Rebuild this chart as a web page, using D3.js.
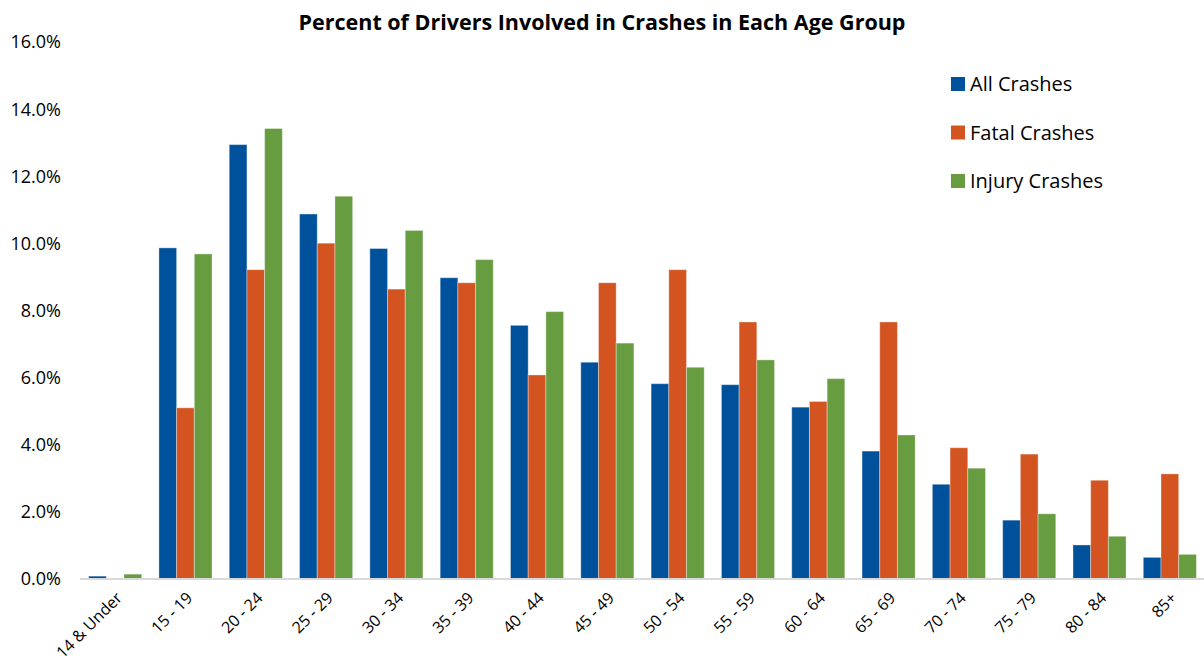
<!DOCTYPE html>
<head>
  <meta charset="utf-8">
  <title>Percent of Drivers Involved in Crashes</title>
  <style>
    body { margin: 0; background: #fff; }
    text { font-family: "Open Sans", "Noto Sans", sans-serif; fill: #000; }
  </style>
</head>
<body>
<div id="chart"></div>
<script src="https://cdn.jsdelivr.net/npm/d3@7"></script>
<script>

var ageGroups = ["14 & Under", "15 - 19", "20 - 24", "25 - 29", "30 - 34", "35 - 39", "40 - 44", "45 - 49",
  "50 - 54", "55 - 59", "60 - 64", "65 - 69", "70 - 74", "75 - 79", "80 - 84", "85+"];
var seriesNames = ["All Crashes", "Fatal Crashes", "Injury Crashes"];
var seriesColors = ["#00519b", "#d35420", "#679c41"];

var allCrashes    = [0.07, 9.86, 12.94, 10.87, 9.84, 8.97, 7.55, 6.45, 5.81, 5.78, 5.11, 3.80, 2.81, 1.74, 1.00, 0.63];
var fatalCrashes  = [0.00, 5.09, 9.21, 10.00, 8.63, 8.82, 6.07, 8.82, 9.21, 7.65, 5.28, 7.65, 3.90, 3.71, 2.93, 3.12];
var injuryCrashes = [0.13, 9.68, 13.42, 11.40, 10.38, 9.51, 7.96, 7.02, 6.30, 6.52, 5.96, 4.28, 3.29, 1.93, 1.26, 0.72];

var yTicks = [0, 2, 4, 6, 8, 10, 12, 14, 16];

var width = 1204, height = 664;

var svg = d3.select("#chart").append("svg")
    .attr("width", width)
    .attr("height", height);

var x0 = d3.scaleBand()
    .domain(ageGroups)
    .range([80, 1205])
    .paddingInner(0.245)
    .paddingOuter(0.1225);

var x1 = d3.scaleBand()
    .domain(seriesNames)
    .range([0, x0.bandwidth()]);

var y = d3.scaleLinear()
    .domain([0, 16])
    .range([578.5, 42]);

var rows = ageGroups.map(function(g, i) {
  return { group: g, values: [allCrashes[i], fatalCrashes[i], injuryCrashes[i]] };
});

// y labels
svg.append("g")
  .selectAll("text")
  .data(yTicks)
  .enter().append("text")
    .attr("x", 61)
    .attr("y", function(d) { return y(d); })
    .attr("dy", "0.36em")
    .attr("text-anchor", "end")
    .style("font-size", "18px")
    .text(function(d) { return d.toFixed(1) + "%"; });

// bars
var group = svg.append("g")
  .selectAll("g")
  .data(rows)
  .enter().append("g")
    .attr("transform", function(d) { return "translate(" + x0(d.group) + ",0)"; });

group.selectAll("rect")
  .data(function(d) { return d.values.map(function(v, i) { return { name: seriesNames[i], value: v, i: i }; }); })
  .enter().append("rect")
    .attr("x", function(d) { return x1(d.name); })
    .attr("width", x1.bandwidth())
    .attr("y", function(d) { return y(d.value); })
    .attr("height", function(d) { return y(0) - y(d.value); })
    .attr("fill", function(d) { return seriesColors[d.i]; })
    .attr("stroke", "rgba(255,255,255,0.35)")
    .attr("stroke-width", 1);

// baseline
svg.append("line")
  .attr("x1", 80)
  .attr("x2", 1204)
  .attr("y1", y(0) + 0.5)
  .attr("y2", y(0) + 0.5)
  .attr("stroke", "#d9d9d9")
  .attr("stroke-width", 2);

// x labels
svg.append("g")
  .selectAll("text")
  .data(ageGroups)
  .enter().append("text")
    .attr("transform", function(d) {
      return "translate(" + (x0(d) + x0.bandwidth() / 2 + 4) + "," + 595 + ") rotate(-45)";
    })
    .attr("text-anchor", "end")
    .attr("dy", "0.35em")
    .style("font-size", "16px")
    .text(function(d) { return d; });

// title
svg.append("text")
  .attr("x", 602)
  .attr("y", 30)
  .attr("text-anchor", "middle")
  .style("font-size", "21.5px")
  .style("font-weight", "bold")
  .text("Percent of Drivers Involved in Crashes in Each Age Group");

// legend
var legend = svg.append("g")
  .selectAll("g")
  .data(seriesNames)
  .enter().append("g")
    .attr("transform", function(d, i) { return "translate(951," + (84 + i * 48.5) + ")"; });

legend.append("rect")
  .attr("x", 0)
  .attr("y", -7)
  .attr("width", 14)
  .attr("height", 14)
  .attr("fill", function(d, i) { return seriesColors[i]; });

legend.append("text")
  .attr("x", 19)
  .attr("dy", "0.36em")
  .style("font-size", "20px")
  .text(function(d) { return d; });

</script>
</body>
</html>
